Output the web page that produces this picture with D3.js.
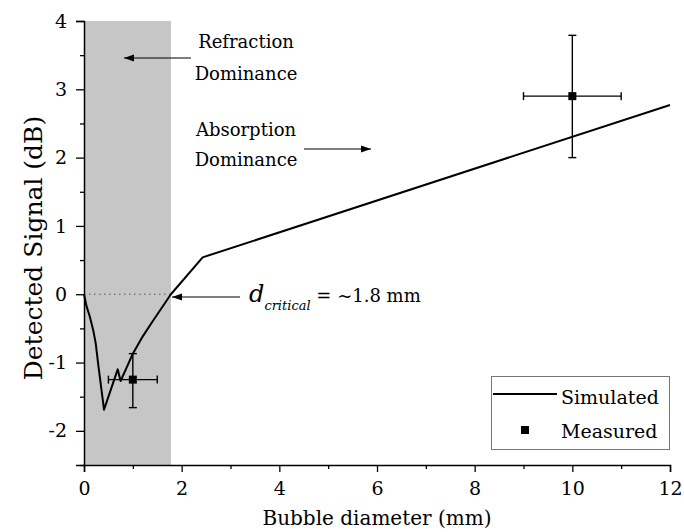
<!DOCTYPE html>
<html>
<head>
<meta charset="utf-8">
<script src="https://cdn.jsdelivr.net/npm/d3@7"></script>
<style>
  body { margin: 0; background: #fff; }
  svg text { font-family: "DejaVu Serif", serif; fill: #000; }
</style>
</head>
<body>
<script>
// simulated curve
const simX = [0, 0.05, 0.12, 0.19, 0.24, 0.29, 0.36, 0.41, 0.69, 0.75, 1.0, 1.2, 1.42, 1.78, 2.43, 12];
const simY = [0, -0.17, -0.33, -0.53, -0.72, -1.02, -1.41, -1.69, -1.10, -1.27, -0.87, -0.62, -0.38, 0, 0.54, 2.77];

// measured points with error bars
const measX = [1, 10];
const measY = [-1.25, 2.9];
const measXErr = [0.5, 1.0];
const measYLow = [-1.66, 2.0];
const measYHigh = [-0.87, 3.79];

// refraction dominated region
const bandX = [0, 1.78];

const xTicks = [0, 2, 4, 6, 8, 10, 12];
const xMinor = [1, 3, 5, 7, 9, 11];
const yTicks = [-2, -1, 0, 1, 2, 3, 4];
const yMinor = [-2.5, -1.5, -0.5, 0.5, 1.5, 2.5, 3.5];

var width = 684, height = 532;
var margin = {top: 21, right: 14, bottom: 67, left: 84};

var svg = d3.select("body").append("svg")
  .attr("width", width)
  .attr("height", height);

var x = d3.scaleLinear().domain([0, 12]).range([margin.left, width - margin.right]);
var y = d3.scaleLinear().domain([-2.5, 4]).range([height - margin.bottom, margin.top]);

var defs = svg.append("defs");
defs.append("marker")
  .attr("id", "arrow")
  .attr("viewBox", "0 0 10 10")
  .attr("refX", 10).attr("refY", 5)
  .attr("markerWidth", 10).attr("markerHeight", 10)
  .attr("markerUnits", "userSpaceOnUse")
  .attr("orient", "auto")
  .append("path")
  .attr("d", "M0,1.5 L10,5 L0,8.5 Z")
  .attr("fill", "#000");

// gray band
svg.append("rect")
  .attr("x", x(bandX[0]))
  .attr("y", y(4))
  .attr("width", x(bandX[1]) - x(bandX[0]))
  .attr("height", y(-2.5) - y(4))
  .attr("fill", "#c6c6c6");

// dotted zero line
svg.append("line")
  .attr("x1", x(0)).attr("x2", x(bandX[1]))
  .attr("y1", y(0)).attr("y2", y(0))
  .attr("stroke", "#555")
  .attr("stroke-width", 1)
  .attr("stroke-dasharray", "1.5,3.5");

// axes
var fmt = d => String(d);
svg.append("g")
  .attr("transform", "translate(0," + y(-2.5) + ")")
  .call(d3.axisBottom(x).tickValues(xTicks).tickFormat(fmt).tickSize(7).tickPadding(10));
svg.append("g")
  .attr("transform", "translate(0," + y(-2.5) + ")")
  .call(d3.axisBottom(x).tickValues(xMinor).tickFormat("").tickSize(4))
  .select(".domain").remove();

svg.append("g")
  .attr("transform", "translate(" + x(0) + ",0)")
  .call(d3.axisLeft(y).tickValues(yTicks).tickFormat(fmt).tickSize(8).tickPadding(9));
svg.append("g")
  .attr("transform", "translate(" + x(0) + ",0)")
  .call(d3.axisLeft(y).tickValues(yMinor).tickFormat("").tickSize(4))
  .select(".domain").remove();

svg.selectAll(".domain").attr("stroke-width", 1.5);
svg.selectAll(".tick line").attr("stroke-width", 1.3);
svg.selectAll(".tick text").style("font-size", "19px").style("font-family", "DejaVu Serif");

// axis titles
svg.append("text")
  .attr("x", x(6)).attr("y", 525)
  .attr("text-anchor", "middle")
  .style("font-size", "20px")
  .text("Bubble diameter (mm)");

svg.append("text")
  .attr("transform", "translate(42,248) rotate(-90)")
  .attr("text-anchor", "middle")
  .style("font-size", "25px")
  .text("Detected Signal (dB)");

// simulated curve
var line = d3.line().x(d => x(d[0])).y(d => y(d[1]));
svg.append("path")
  .datum(d3.zip(simX, simY))
  .attr("d", line)
  .attr("fill", "none")
  .attr("stroke", "#000")
  .attr("stroke-width", 2)
  .attr("stroke-linejoin", "round");

// measured with error bars
var meas = measX.map((v, i) => ({x: v, y: measY[i], xe: measXErr[i], lo: measYLow[i], hi: measYHigh[i]}));
var cap = 4;
var eb = svg.append("g").attr("stroke", "#000").attr("stroke-width", 1.4);
meas.forEach(function(d) {
  eb.append("line").attr("x1", x(d.x - d.xe)).attr("x2", x(d.x + d.xe)).attr("y1", y(d.y)).attr("y2", y(d.y));
  eb.append("line").attr("x1", x(d.x)).attr("x2", x(d.x)).attr("y1", y(d.lo)).attr("y2", y(d.hi));
  eb.append("line").attr("x1", x(d.x - d.xe)).attr("x2", x(d.x - d.xe)).attr("y1", y(d.y) - cap).attr("y2", y(d.y) + cap);
  eb.append("line").attr("x1", x(d.x + d.xe)).attr("x2", x(d.x + d.xe)).attr("y1", y(d.y) - cap).attr("y2", y(d.y) + cap);
  eb.append("line").attr("x1", x(d.x) - cap).attr("x2", x(d.x) + cap).attr("y1", y(d.lo)).attr("y2", y(d.lo));
  eb.append("line").attr("x1", x(d.x) - cap).attr("x2", x(d.x) + cap).attr("y1", y(d.hi)).attr("y2", y(d.hi));
});
svg.selectAll(".pt")
  .data(meas)
  .enter().append("rect")
  .attr("class", "pt")
  .attr("x", d => x(d.x) - 4)
  .attr("y", d => y(d.y) - 4)
  .attr("width", 8).attr("height", 8)
  .attr("fill", "#000");

// annotations
function arrow(x1, y1, x2, y2) {
  svg.append("line")
    .attr("x1", x1).attr("y1", y1).attr("x2", x2).attr("y2", y2)
    .attr("stroke", "#000").attr("stroke-width", 1.2)
    .attr("marker-end", "url(#arrow)");
}
function label(t, cx, by) {
  svg.append("text").attr("x", cx).attr("y", by)
    .attr("text-anchor", "middle")
    .style("font-size", "18px")
    .text(t);
}
label("Refraction", 246, 48);
label("Dominance", 246, 80);
arrow(191, 58, 124, 58);
label("Absorption", 246, 136);
label("Dominance", 246, 166);
arrow(304, 149, 371, 149);

arrow(240, 297, 172, 297);
var dc = svg.append("text").attr("x", 249).attr("y", 302);
dc.append("tspan").style("font-size", "24px").style("font-style", "italic").text("d");
dc.append("tspan").attr("dy", 8).style("font-size", "13px").style("font-style", "italic").text("critical");
dc.append("tspan").attr("dy", -8).style("font-size", "18px").text(" = ~1.8 mm");

// legend
var lg = svg.append("g");
lg.append("rect")
  .attr("x", 491.5).attr("y", 376.5)
  .attr("width", 178).attr("height", 73)
  .attr("fill", "#fff")
  .attr("stroke", "#777").attr("stroke-width", 1);
lg.append("line")
  .attr("x1", 493).attr("x2", 557).attr("y1", 394).attr("y2", 394)
  .attr("stroke", "#000").attr("stroke-width", 2);
lg.append("rect")
  .attr("x", 521).attr("y", 426).attr("width", 8).attr("height", 8)
  .attr("fill", "#000");
lg.append("text").attr("x", 561).attr("y", 404).style("font-size", "19px").text("Simulated");
lg.append("text").attr("x", 561).attr("y", 438).style("font-size", "19px").text("Measured");
</script>
</body>
</html>
